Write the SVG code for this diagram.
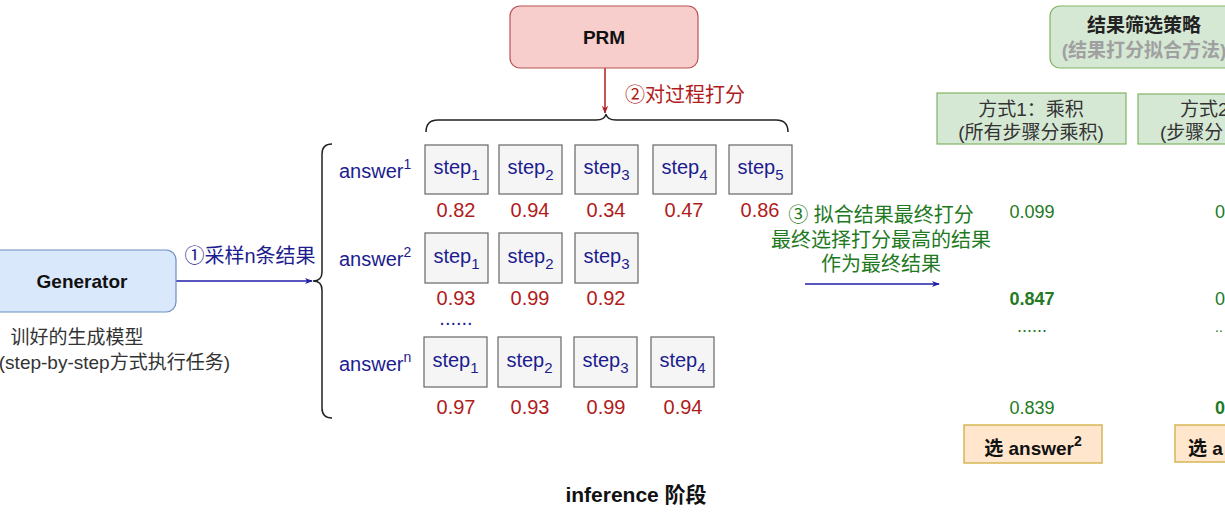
<svg xmlns="http://www.w3.org/2000/svg" width="1225" height="521" viewBox="0 0 1225 521">
<defs>
<style>
text{font-family:"Liberation Sans","Noto Sans CJK SC",sans-serif;}
.navy{fill:#1c1c8f;font-size:20px;}
.red{fill:#b01c1c;font-size:20px;text-anchor:middle;}
.green{fill:#237a23;font-size:18px;text-anchor:middle;}
.gtxt{fill:#1f7a1f;font-size:20px;text-anchor:middle;}
.step rect{fill:#f5f5f5;stroke:#666666;stroke-width:1.2;}
.step text{fill:#1c1c8f;font-size:20px;text-anchor:middle;}
.mbox{fill:#d5e8d4;stroke:#82b366;stroke-width:1.2;}
.obox{fill:#ffe6cc;stroke:#d6b656;stroke-width:1.5;}
.dark{fill:#333333;font-size:19px;text-anchor:middle;}
.bold{font-weight:bold;}
</style>
<marker id="ab" viewBox="0 0 10 10" refX="9" refY="5" markerWidth="8" markerHeight="8" markerUnits="userSpaceOnUse" orient="auto"><path d="M0,1 L10,5 L0,9 L3,5 z" fill="#1f1fa8"/></marker>
<marker id="ar" viewBox="0 0 10 10" refX="9" refY="5" markerWidth="8" markerHeight="8" markerUnits="userSpaceOnUse" orient="auto"><path d="M0,1 L10,5 L0,9 L3,5 z" fill="#b01c1c"/></marker>
</defs>
<rect width="1225" height="521" fill="#ffffff"/>

<g id="connectors" fill="none">
<path d="M176 281 L312 281" stroke="#1f1fa8" stroke-width="1.5" marker-end="url(#ab)"/>
<path d="M605 68 L605 113" stroke="#b01c1c" stroke-width="1.5" marker-end="url(#ar)"/>
<path d="M805 284 L939 284" stroke="#1f1fa8" stroke-width="1.5" marker-end="url(#ab)"/>
<path d="M332 144 Q322 144 322 154 L322 272 Q322 281 313 281 Q322 281 322 290 L322 408 Q322 418 332 418" stroke="#222222" stroke-width="1.5"/>
<path d="M426 132 Q426 120 438 120 L596 120 Q605 120 606 114 Q607 120 616 120 L776 120 Q788 120 788 132" stroke="#222222" stroke-width="1.5"/>
</g>

<g id="generator">
<rect x="-12" y="250" width="188" height="62" rx="10" fill="#dae8fc" stroke="#6c8ebf" stroke-width="1.2"/>
<text x="82" y="288" font-size="19" class="bold" text-anchor="middle" fill="#111111">Generator</text>
<text x="77" y="344" class="dark" font-size="20">训好的生成模型</text>
<text x="230" y="369" class="dark" font-size="20" style="text-anchor:end">(step-by-step方式执行任务)</text>
</g>
<g id="label-sample"><text x="250" y="263" class="navy" text-anchor="middle">①采样n条结果</text></g>

<g id="prm">
<rect x="510" y="6" width="188" height="62" rx="10" fill="#f8cecc" stroke="#b85450" stroke-width="1.2"/>
<text x="604" y="44" font-size="19" class="bold" text-anchor="middle" fill="#111111">PRM</text>
</g>
<g id="label-score"><text x="685" y="102" font-size="20" fill="#b01c1c" text-anchor="middle">②对过程打分</text></g>

<g id="answers">
<text x="339" y="178" class="navy">answer<tspan dy="-9" font-size="14">1</tspan></text>
<text x="339" y="266" class="navy">answer<tspan dy="-9" font-size="14">2</tspan></text>
<text x="339" y="371" class="navy">answer<tspan dy="-9" font-size="14">n</tspan></text>
<text x="456" y="325" class="navy" text-anchor="middle" font-size="16">......</text>
</g>

<g id="row1" class="step">
<rect x="425" y="145" width="63" height="49"/><text x="456.5" y="174">step<tspan dy="6" font-size="15">1</tspan></text>
<rect x="499" y="145" width="63" height="49"/><text x="530.5" y="174">step<tspan dy="6" font-size="15">2</tspan></text>
<rect x="575" y="145" width="63" height="49"/><text x="606.5" y="174">step<tspan dy="6" font-size="15">3</tspan></text>
<rect x="653" y="145" width="63" height="49"/><text x="684.5" y="174">step<tspan dy="6" font-size="15">4</tspan></text>
<rect x="729" y="145" width="63" height="49"/><text x="760.5" y="174">step<tspan dy="6" font-size="15">5</tspan></text>
</g>
<g id="row1-scores">
<text x="456" y="217" class="red">0.82</text>
<text x="530" y="217" class="red">0.94</text>
<text x="606" y="217" class="red">0.34</text>
<text x="684" y="217" class="red">0.47</text>
<text x="760" y="217" class="red">0.86</text>
</g>

<g id="row2" class="step">
<rect x="425" y="233" width="63" height="50"/><text x="456.5" y="263">step<tspan dy="6" font-size="15">1</tspan></text>
<rect x="499" y="233" width="63" height="50"/><text x="530.5" y="263">step<tspan dy="6" font-size="15">2</tspan></text>
<rect x="575" y="233" width="63" height="50"/><text x="606.5" y="263">step<tspan dy="6" font-size="15">3</tspan></text>
</g>
<g id="row2-scores">
<text x="456" y="305" class="red">0.93</text>
<text x="530" y="305" class="red">0.99</text>
<text x="606" y="305" class="red">0.92</text>
</g>

<g id="rown" class="step">
<rect x="424" y="337" width="63" height="50"/><text x="455.5" y="367">step<tspan dy="6" font-size="15">1</tspan></text>
<rect x="498" y="337" width="63" height="50"/><text x="529.5" y="367">step<tspan dy="6" font-size="15">2</tspan></text>
<rect x="574" y="337" width="63" height="50"/><text x="605.5" y="367">step<tspan dy="6" font-size="15">3</tspan></text>
<rect x="651" y="337" width="63" height="50"/><text x="682.5" y="367">step<tspan dy="6" font-size="15">4</tspan></text>
</g>
<g id="rown-scores">
<text x="456" y="414" class="red">0.97</text>
<text x="530" y="414" class="red">0.93</text>
<text x="606" y="414" class="red">0.99</text>
<text x="683" y="414" class="red">0.94</text>
</g>

<g id="label-fit">
<text x="881" y="222" class="gtxt">③ 拟合结果最终打分</text>
<text x="881" y="247" class="gtxt">最终选择打分最高的结果</text>
<text x="881" y="271" class="gtxt">作为最终结果</text>
</g>

<g id="strategy">
<rect x="1050" y="6" width="190" height="62" rx="10" class="mbox"/>
<text x="1144" y="32" font-size="19" class="bold" text-anchor="middle" fill="#222222">结果筛选策略</text>
<text x="1144" y="57" font-size="19" class="bold" text-anchor="middle" fill="#a0a0a0">(结果打分拟合方法)</text>
</g>

<g id="method1">
<rect x="937" y="93" width="189" height="51" class="mbox"/>
<text x="1031" y="116" class="dark">方式1：乘积</text>
<text x="1031" y="139" class="dark">(所有步骤分乘积)</text>
</g>
<g id="method2">
<rect x="1138" y="94" width="100" height="50" class="mbox"/>
<text x="1180" y="116" fill="#333333" font-size="19">方式2</text>
<text x="1160" y="139" fill="#333333" font-size="19">(步骤分</text>
</g>

<g id="col1">
<text x="1032" y="218" class="green">0.099</text>
<text x="1032" y="305" class="green bold">0.847</text>
<text x="1032" y="332" class="green" font-size="14">......</text>
<text x="1032" y="414" class="green">0.839</text>
</g>
<g id="col2">
<text x="1215" y="218" fill="#237a23" font-size="18">0</text>
<text x="1215" y="305" fill="#237a23" font-size="18">0</text>
<text x="1215" y="332" fill="#237a23" font-size="14">..</text>
<text x="1215" y="414" fill="#237a23" font-size="18" class="bold">0</text>
</g>

<g id="pick1">
<rect x="964" y="425" width="138" height="38" class="obox"/>
<text x="1033" y="455" font-size="19" class="bold" text-anchor="middle" fill="#111111">选 answer<tspan dy="-9" font-size="14">2</tspan></text>
</g>
<g id="pick2">
<rect x="1175" y="425" width="60" height="37" class="obox"/>
<text x="1188" y="455" font-size="19" class="bold" fill="#111111">选 a</text>
</g>

<g id="caption"><text x="636" y="502" font-size="21" class="bold" text-anchor="middle" fill="#111111">inference 阶段</text></g>
</svg>
